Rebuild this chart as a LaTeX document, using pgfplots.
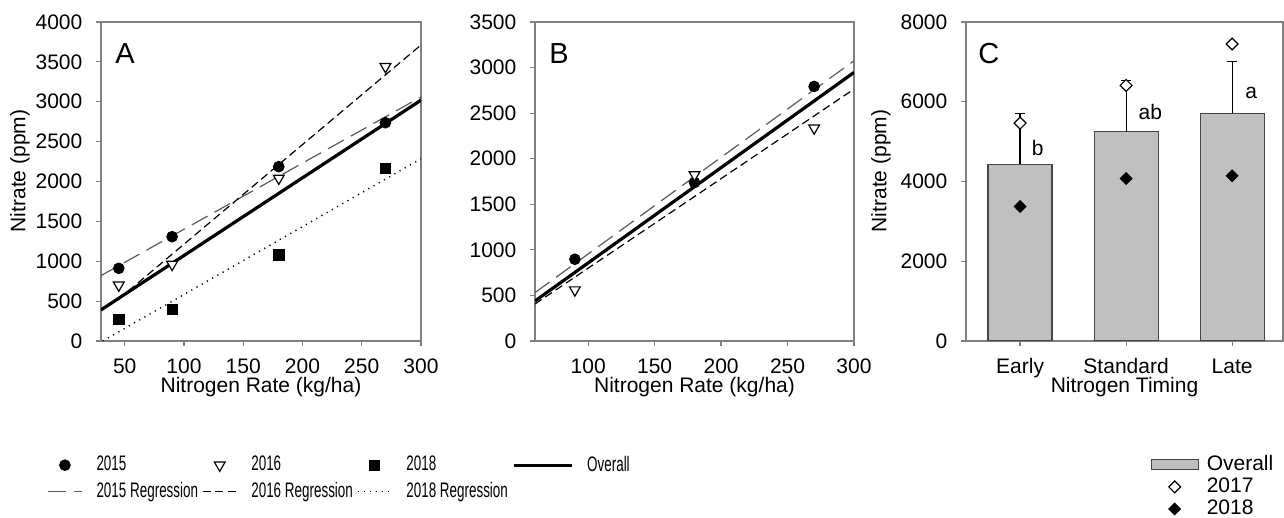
\documentclass[border=0pt]{standalone}
\usepackage{fontspec}
\setmainfont{Liberation Sans}
\newfontfamily\narrowfont[FakeStretch=0.64]{Liberation Sans}
\usepackage{pgfplots}
\pgfplotsset{compat=1.18}

\definecolor{axgray}{RGB}{128,128,128}
\definecolor{bargray}{RGB}{192,192,192}
\definecolor{baredge}{RGB}{70,70,70}
\definecolor{reggray}{RGB}{90,90,90}

\pgfplotsset{
  panel/.style={
    scale only axis, width=160pt, height=159.5pt,
    axis line style={axgray, line width=0.6pt},
    tick style={axgray, line width=0.6pt},
    tick align=outside, major tick length=2.5pt,
    tick pos=left,
    font=\fontsize{10.5}{12}\selectfont,
    /pgf/number format/assume math mode=true,
    /pgf/number format/1000 sep={},
    scaled ticks=false,
    yticklabel style={xshift=-3.3pt},
    xticklabel style={yshift=-2.8pt},
    every axis x label/.style={at={(axis description cs:0.5,-0.145)},anchor=center},
    every axis y label/.style={at={(axis description cs:-0.253,0.533)},rotate=90,anchor=center},
    legend image code/.code={\draw[mark repeat=2,mark phase=2,##1] plot coordinates {(0pt,0pt) (8.5pt,0pt) (17pt,0pt)};},
  },
  s2015/.style={only marks, mark=*, mark size=2.7pt, black},
  s2016/.style={only marks, mark=triangle*, mark size=3.1pt, black, mark options={rotate=180, fill=white, line width=0.6pt}},
  s2018/.style={only marks, mark=square*, mark size=2.6pt, black},
  overall/.style={black, line width=1.6pt, no marks},
  r2015/.style={reggray, line width=0.6pt, dash pattern=on 9pt off 4pt, no marks},
  r2016/.style={black, line width=0.6pt, dash pattern=on 4pt off 2.2pt, no marks},
  r2018/.style={black, line width=0.7pt, dash pattern=on 0.6pt off 2.4pt, no marks},
  longline legend/.style={legend image code/.code={\draw[##1] (0pt,0pt) -- (29pt,0pt);}},
  bar legend/.style={legend image code/.code={\draw[##1] (0pt,-2.5pt) rectangle (23.5pt,2.5pt);}},
}

\begin{document}
\begin{tikzpicture}
\path[use as bounding box] (0,0) rectangle (642pt,259pt);

% Panel A
\begin{axis}[panel,
  at={(50.5pt,88.5pt)}, anchor=south west,
  xmin=30, xmax=300, ymin=0, ymax=4000,
  xtick={50,100,...,300}, ytick={0,500,...,4000},
  xlabel={Nitrogen Rate (kg/ha)}, ylabel={Nitrate (ppm)},
  legend columns=4,
  legend cell align=left,
  legend style={at={(axis description cs:-0.169,-0.35)}, anchor=north west,
    draw=none, fill=none, inner sep=0pt, row sep=1.2pt,
    nodes={inner xsep=0pt, inner ysep=1.5pt},
    font=\narrowfont\fontsize{10.5}{12}\selectfont,
    /tikz/every odd column/.append style={column sep=7pt},
    /tikz/every even column/.append style={column sep=2pt}},
]
\addlegendimage{s2015}\addlegendentry{2015}
\addlegendimage{s2016}\addlegendentry{2016}
\addlegendimage{s2018}\addlegendentry{2018}
\addlegendimage{overall, longline legend}\addlegendentry{Overall}
\addlegendimage{r2015}\addlegendentry{2015 Regression}
\addlegendimage{r2016}\addlegendentry{2016 Regression}
\addlegendimage{r2018}\addlegendentry{2018 Regression}

\addplot[r2015, forget plot] coordinates {(30,820) (300,3060)};
\addplot[r2016, forget plot] coordinates {(45,526) (300,3712)};
\addplot[r2018, forget plot] coordinates {(31.5,0) (300,2285)};
\addplot[overall, forget plot] coordinates {(30,390) (300,3020)};
\addplot[s2015, forget plot] coordinates {(45,911) (90,1308) (180,2186) (270,2737)};
\addplot[s2016, forget plot] coordinates {(45,700) (90,960) (180,2040) (270,3440)};
\addplot[s2018, forget plot] coordinates {(45,272) (90,397) (180,1078) (270,2165)};
\node[anchor=north west, inner sep=0pt, font=\fontsize{14.5}{15}\selectfont] at (axis description cs:0.044,0.934) {A};
\end{axis}

% Panel B
\begin{axis}[panel,
  at={(267.5pt,88.5pt)}, anchor=south west,
  width=159.5pt,
  xmin=60, xmax=300, ymin=0, ymax=3500,
  xtick={100,150,...,300}, ytick={0,500,...,3500},
  xlabel={Nitrogen Rate (kg/ha)},
]
\addplot[r2015] coordinates {(60,531) (300,3075)};
\addplot[r2016] coordinates {(60,406) (300,2764)};
\addplot[overall] coordinates {(60,439) (300,2947)};
\addplot[s2015] coordinates {(90,897) (180,1739) (270,2793)};
\addplot[s2016] coordinates {(90,560) (180,1823) (270,2336)};
\node[anchor=north west, inner sep=0pt, font=\fontsize{14.5}{15}\selectfont] at (axis description cs:0.044,0.934) {B};
\end{axis}

% Panel C
\begin{axis}[panel,
  at={(483pt,88.5pt)}, anchor=south west,
  width=158.5pt,
  xmin=-0.51, xmax=2.48, ymin=0, ymax=8000,
  xtick={0,1,2}, xticklabels={Early,Standard,Late},
  ytick={0,2000,...,8000},
  xlabel={Nitrogen Timing}, ylabel={Nitrate (ppm)},
  every axis y label/.style={at={(axis description cs:-0.268,0.533)},rotate=90,anchor=center},
  legend image code/.code={\draw[mark repeat=2,mark phase=2,#1] plot coordinates {(0pt,0pt) (11.75pt,0pt) (23.5pt,0pt)};},
  legend cell align=left,
  legend style={at={(axis description cs:0.581,-0.345)}, anchor=north west,
    draw=none, fill=none, inner sep=0pt, row sep=-1.8pt,
    /tikz/every odd column/.append style={column sep=2pt},
    font=\fontsize{10.5}{12}\selectfont},
]
\addlegendimage{bar legend, fill=bargray, draw=baredge, line width=0.6pt}\addlegendentry{Overall}
\addlegendimage{only marks, mark=square*, mark size=2.1pt, black, mark options={rotate=45, fill=white, line width=0.6pt}}\addlegendentry{2017}
\addlegendimage{only marks, mark=square*, mark size=2.1pt, black, mark options={rotate=45}}\addlegendentry{2018}

\addplot[ybar, bar width=32pt, fill=bargray, draw=baredge, line width=0.6pt, forget plot,
  error bars/.cd, y dir=plus, y explicit,
  error bar style={black, line width=0.6pt},
  error mark options={rotate=90, mark size=2.5pt, black, line width=0.6pt}]
  coordinates {(0,4435) +- (0,1263) (1,5246) +- (0,1289) (2,5715) +- (0,1296)};
\addplot[only marks, mark=square*, mark size=2.1pt, black, mark options={rotate=45, fill=white, line width=0.6pt}, forget plot]
  coordinates {(0,5464) (1,6409) (2,7448)};
\addplot[only marks, mark=square*, mark size=2.1pt, black, mark options={rotate=45}, forget plot]
  coordinates {(0,3372) (1,4075) (2,4142)};
\node[anchor=north west, inner sep=0pt, font=\fontsize{14.5}{15}\selectfont] at (axis description cs:0.038,0.934) {C};
\node[anchor=base, inner sep=0pt] at (axis cs:0.167,4657) {b};
\node[anchor=base, inner sep=0pt] at (axis cs:1.228,5548) {ab};
\node[anchor=base, inner sep=0pt] at (axis cs:2.18,6075) {a};
\end{axis}
\end{tikzpicture}
\end{document}
